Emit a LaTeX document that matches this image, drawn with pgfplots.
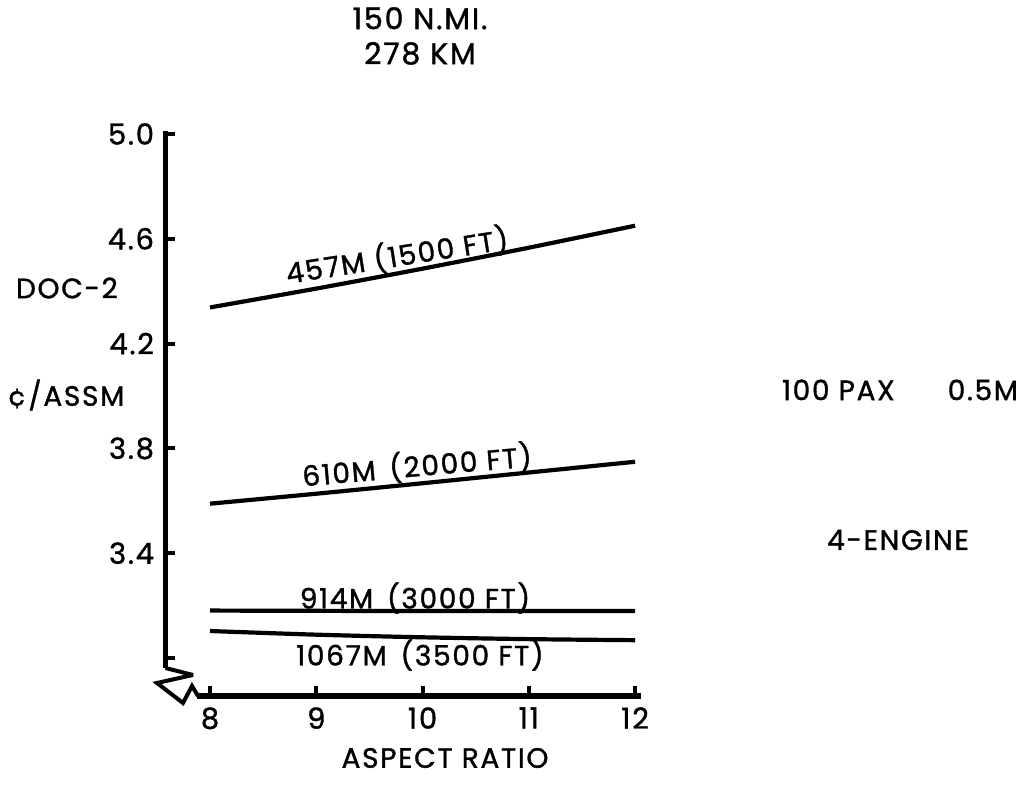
\documentclass[border=0pt]{standalone}
\usepackage{fontspec}
\setmainfont{Poppins}[FakeBold=1.2, LetterSpace=6]
\usepackage{pgfplots}
\pgfplotsset{compat=1.18}
\pgfplotstableread{
x y
8 4.338
9 4.410
10 4.486
11 4.566
12 4.650
}\tA
\pgfplotstableread{
x y
8 3.589
9 3.627
10 3.667
11 3.708
12 3.749
}\tB
\pgfplotstableread{
x y
8 3.181
9 3.180
10 3.179
11 3.179
12 3.179
}\tC
\pgfplotstableread{
x y
8 3.103
9 3.089
10 3.079
11 3.072
12 3.068
}\tD
\newcommand{\lf}{\fontsize{14}{16}\selectfont}
\begin{document}
\begin{tikzpicture}[x=0.5pt,y=0.5pt]
\path[use as bounding box] (0,0) rectangle (1029,785);
\begin{axis}[
  at={(82.7pt,44.5pt)}, anchor=south west,
  scale only axis, width=237.5pt, height=281pt,
  xmin=7.58, xmax=12.05, ymin=2.855, ymax=5.0,
  axis x line*=bottom, axis y line*=left,
  axis line style={draw=none},
  tick align=inside,
  xtick={8,9,10,11,12},
  ytick={3.0,3.4,3.8,4.2,4.6,5.0},
  yticklabels={,3.4,3.8,4.2,4.6,5.0},
  x tick style={line width=2pt, black},
  y tick style={line width=2pt, black},
  xtick/.append style={major tick length=7pt},
  major tick length=5pt,
  /pgf/number format/assume math mode=true,
  ticklabel style={font=\fontsize{14.5}{16}\selectfont, inner sep=0pt},
  yticklabel style={xshift=-5.5pt},
  xticklabel style={yshift=-5.5pt},
  clip=false,
]
\addplot[line width=2.1pt, black, smooth] table[x=x,y=y] {\tA};
\addplot[line width=2.1pt, black, smooth] table[x=x,y=y] {\tB};
\addplot[line width=2.1pt, black] table[x=x,y=y] {\tC};
\addplot[line width=2.1pt, black, smooth] table[x=x,y=y] {\tD};
\end{axis}
% axis lines with break
\draw[line width=2.8pt, line cap=butt] (165.5,785-131) -- (165.5,785-668);
\draw[line width=2pt, line join=miter, miter limit=3] (165.5,785-668) -- (193,785-675) -- (157,785-683) -- (183,785-703) -- (192,785-686) -- (198,785-696);
\draw[line width=2.8pt] (197,785-696) -- (641,785-696);
% texts
\node[font=\fontsize{15}{17.5}\selectfont, align=center] at (420,785-36) {150 N.MI.\\278 KM};
\node[font=\lf, anchor=west] at (9,785-288) {DOC-2};
\node[font=\lf, anchor=west] at (1,785-395) {¢/ASSM};
\node[font=\lf] at (445,785-758) {ASPECT RATIO};
\node[font=\lf, anchor=west] at (775,785-390) {100 PAX\hspace{1.9em}0.5M};
\node[font=\lf] at (898,785-540) {4-ENGINE};
\node[font=\lf, rotate=9] at (397,785-256) {457M (1500 FT)};
\node[font=\lf, rotate=5] at (417,785-466) {610M \,(2000 FT)};
\node[font=\lf] at (415,785-598) {914M \,(3000 FT)};
\node[font=\lf] at (420,785-655) {1067M \,(3500 FT)};
\end{tikzpicture}
\end{document}
